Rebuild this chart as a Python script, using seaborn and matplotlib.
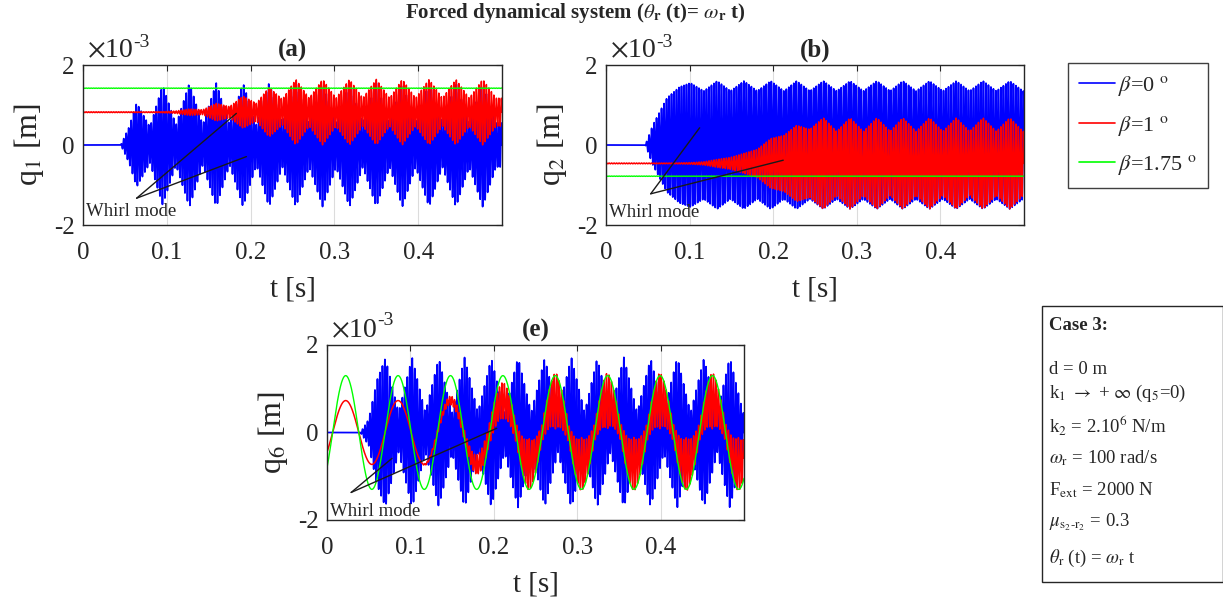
import numpy as np
import matplotlib
matplotlib.use('Agg')
import matplotlib.pyplot as plt
import seaborn as sns
from matplotlib.lines import Line2D
from matplotlib.patches import Rectangle

# ---------------- data (displacements in 1e-3 m) ----------------
T_END = 0.5
F_CARRIER = 335.0      # Hz, fast whirl oscillation
BEAT = 0.0318          # s, beat period of the whirl oscillation
OMEGA_R = 100.0        # rad/s

x_ticks = [0, 0.1, 0.2, 0.3, 0.4]
x_tick_labels = ['0', '0.1', '0.2', '0.3', '0.4']
y_ticks = [-2e-3, 0, 2e-3]
y_tick_labels = ['-2', '0', '2']
beta_labels = [r'$\beta$=0 $^\mathrm{o}$', r'$\beta$=1 $^\mathrm{o}$', r'$\beta$=1.75 $^\mathrm{o}$']
colors = ['#0000ff', '#ff0000', '#00ff00']

# panel (a) : q1
a_peak_t = [0.064, 0.095, 0.127, 0.159, 0.191, 0.222, 0.254, 0.286, 0.318, 0.350, 0.381, 0.413, 0.445, 0.477]
a_blue_rise_t = [0, 0.045, 0.055]
a_blue_rise = [0, 0, 0.45]
a_blue_peak = [1.05, 1.5, 1.55, 1.55, 1.55, 1.55, 1.55, 1.55, 1.55, 1.55, 1.55, 1.55, 1.55, 1.55]
a_blue_node = [0.45, 0.5, 0.5, 0.5, 0.5, 0.55, 0.55, 0.55, 0.55, 0.55, 0.55, 0.55, 0.55, 0.55]
a_red_mid = 0.82
a_red_rise_t = [0, 0.05]
a_red_rise = [0.01, 0.01]
a_red_peak = [0.01, 0.015, 0.08, 0.22, 0.4, 0.62, 0.82, 0.82, 0.82, 0.82, 0.82, 0.82, 0.82, 0.82]
a_red_node = [0.01, 0.03, 0.06, 0.14, 0.22, 0.32, 0.35, 0.35, 0.35, 0.35, 0.35, 0.35, 0.35, 0.35]
a_green_mid = 1.42

# panel (b) : q2
b_peak_t = [0.101, 0.133, 0.165, 0.197, 0.228, 0.260, 0.292, 0.324, 0.355, 0.387, 0.419, 0.451, 0.483]
b_blue_rise_t = [0, 0.047, 0.056, 0.073, 0.088]
b_blue_rise = [0, 0, 0.5, 1.18, 1.45]
b_blue_peak = [1.55, 1.6, 1.6, 1.6, 1.6, 1.6, 1.6, 1.6, 1.6, 1.6, 1.6, 1.6, 1.6]
b_blue_node = [1.35, 1.35, 1.35, 1.35, 1.35, 1.35, 1.35, 1.35, 1.35, 1.35, 1.35, 1.35, 1.35]
b_red_mid = -0.46
b_red_rise_t = [0, 0.08]
b_red_rise = [0.01, 0.01]
b_red_peak = [0.02, 0.1, 0.25, 0.62, 0.95, 1.14, 1.14, 1.14, 1.14, 1.14, 1.14, 1.14, 1.14]
b_red_node = [0.04, 0.15, 0.35, 0.7, 0.85, 0.8, 0.8, 0.8, 0.8, 0.8, 0.8, 0.8, 0.8]
b_green_mid = -0.78

# panel (e) : q6
e_peak_t = [0.070, 0.102, 0.134, 0.165, 0.197, 0.229, 0.261, 0.293, 0.324, 0.356, 0.388, 0.420, 0.452, 0.483]
e_blue_rise_t = [0, 0.040, 0.050, 0.060]
e_blue_rise = [0, 0, 0.3, 1.2]
e_blue_peak = [1.7, 1.72, 1.7, 1.72, 1.7, 1.72, 1.7, 1.72, 1.7, 1.72, 1.7, 1.72, 1.7, 1.72]
e_blue_node = [0.45, 0.45, 0.45, 0.45, 0.45, 0.45, 0.45, 0.45, 0.45, 0.45, 0.45, 0.45, 0.45, 0.45]
e_red_slow_amp = 0.73
e_red_peak_t = [0.148, 0.179, 0.211, 0.242, 0.274, 0.305, 0.336, 0.368, 0.399, 0.431, 0.462, 0.493]
e_red_rise_t = [0, 0.11]
e_red_rise = [0, 0]
e_red_peak = [0.1, 0.22, 0.42, 0.6, 0.65, 0.62, 0.65, 0.62, 0.65, 0.62, 0.65, 0.62]
e_red_node = [0.12, 0.25, 0.22, 0.2, 0.2, 0.2, 0.2, 0.2, 0.2, 0.2, 0.2, 0.2]
e_green_amp = 1.3
e_phase = 0.67   # rad, phase lag of the forced response

RIPPLE = 0.005

# ---------------- build the curves ----------------
T = np.linspace(0, T_END, 30001)
carrier = np.sin(2 * np.pi * F_CARRIER * T)


def envelope(rise_t, rise_amp, peak_t, peak_amp, node_amp):
    tk, ak = list(rise_t), list(rise_amp)
    for tp, ap, an in zip(peak_t, peak_amp, node_amp):
        tk += [tp, tp + BEAT / 2]
        ak += [ap, an]
    return np.interp(T, tk, ak)


slow = np.sin(OMEGA_R * T - e_phase)

panels = {
    'a': [
        envelope(a_blue_rise_t, a_blue_rise, a_peak_t, a_blue_peak, a_blue_node) * carrier,
        a_red_mid + envelope(a_red_rise_t, a_red_rise, a_peak_t, a_red_peak, a_red_node) * carrier,
        a_green_mid + RIPPLE * carrier,
    ],
    'b': [
        envelope(b_blue_rise_t, b_blue_rise, b_peak_t, b_blue_peak, b_blue_node) * carrier,
        b_red_mid + envelope(b_red_rise_t, b_red_rise, b_peak_t, b_red_peak, b_red_node) * carrier,
        b_green_mid + RIPPLE * carrier,
    ],
    'e': [
        envelope(e_blue_rise_t, e_blue_rise, e_peak_t, e_blue_peak, e_blue_node) * carrier,
        e_red_slow_amp * slow + envelope(e_red_rise_t, e_red_rise, e_red_peak_t, e_red_peak, e_red_node) * carrier,
        e_green_amp * slow,
    ],
}
line_widths = [1.25, 1.1, 1.0]

# ---------------- style ----------------
sns.set_theme(style='white')
plt.rcParams['font.family'] = ['Liberation Serif', 'DejaVu Serif']
plt.rcParams['mathtext.fontset'] = 'stix'
plt.rcParams['axes.unicode_minus'] = False
plt.rcParams['xtick.direction'] = 'in'
plt.rcParams['ytick.direction'] = 'in'

fig = plt.figure(figsize=(12.23, 6.03), dpi=100)
W, H = 1223, 603


def px_axes(l, t, r, b):
    return fig.add_axes([l / W, 1 - b / H, (r - l) / W, (b - t) / H])


ax_a = px_axes(83, 65, 502, 225)
ax_b = px_axes(606, 65, 1024, 225)
ax_e = px_axes(327, 345, 744, 520)

info = [
    (ax_a, 'a', r'q$_1$ [m]',
     ((0.064, -1.33), [(0.183, 0.79), (0.195, -0.29)], (0.004, -1.65))),
    (ax_b, 'b', r'q$_2$ [m]',
     ((0.0535, -1.22), [(0.112, 0.43), (0.212, -0.38)], (0.004, -1.68))),
    (ax_e, 'e', r'q$_6$ [m]',
     ((0.029, -1.37), [(0.078, -0.59), (0.2035, 0.096)], (0.004, -1.8))),
]

for ax, key, ylab, (apex, ends, txt) in info:
    for y, c, lw in zip(panels[key], colors, line_widths):
        sns.lineplot(x=T, y=y * 1e-3, ax=ax, color=c, linewidth=lw,
                     estimator=None, sort=False, errorbar=None, legend=False)
    for ex, ey in ends:
        ax.plot([apex[0], ex], [apex[1] * 1e-3, ey * 1e-3], color='k', lw=1.0, zorder=5)
    ax.text(txt[0], txt[1] * 1e-3, 'Whirl mode', fontsize=13.5, va='center', ha='left', zorder=6)

    ax.set_xlim(0, T_END)
    ax.set_ylim(-2e-3, 2e-3)
    ax.set_xticks(x_ticks, labels=x_tick_labels)
    ax.set_yticks(y_ticks, labels=y_tick_labels)
    ax.tick_params(labelsize=18, top=True, right=True, length=4, width=0.8, color='#262626')
    ax.tick_params(axis='x', pad=12)
    ax.tick_params(axis='y', pad=6)
    ax.text(0.01, 1.01, r'$\times$10', transform=ax.transAxes, fontsize=20,
            ha='left', va='bottom')
    ax.text(0.12, 1.09, '-3', transform=ax.transAxes, fontsize=14,
            ha='left', va='bottom')
    ax.grid(True, color='#dcdcdc', lw=0.8)
    ax.set_axisbelow(True)
    for s in ax.spines.values():
        s.set_color('#262626')
        s.set_linewidth(1.0)
    ax.set_xlabel('t [s]', fontsize=21, labelpad=9)
    ax.set_ylabel(ylab, fontsize=23, labelpad=6)
    ax.set_title(f'({key})', fontsize=18, fontweight='bold', pad=6)

fig.text(575 / W, 1 - 13 / H,
         r'Forced dynamical system ($\theta_{\mathbf{r}}$ (t)= $\omega_{\mathbf{r}}$ t)',
         ha='center', va='center', fontsize=15, fontweight='bold')

handles = [Line2D([], [], color=c, lw=1.2) for c in colors]
fig.legend(handles, beta_labels, loc='upper left', bbox_to_anchor=(1068 / W, 1 - 63 / H),
           fontsize=16, frameon=True, fancybox=False, edgecolor='#404040', framealpha=1,
           handlelength=1.6, handletextpad=0.15, labelspacing=0.7, borderpad=0.5,
           borderaxespad=0)

# parameter box
fig.patches.append(Rectangle((1042 / W, 1 - 582 / H), (W - 1042) / W, 276 / H,
                             transform=fig.transFigure, fill=False, edgecolor='#262626', lw=1.0))
case_lines = [
    ('Case 3:', 325, 'bold'),
    ('d = 0 m', 369, 'normal'),
    (r'k$_1$ $\rightarrow$ + $\infty$ (q$_5$=0)', 393, 'normal'),
    (r'k$_2$ = 2.10$^6$ N/m', 426, 'normal'),
    (r'$\omega_\mathrm{r}$ = 100 rad/s', 458, 'normal'),
    (r'F$_\mathrm{ext}$ = 2000 N', 490, 'normal'),
    (r'$\mu_{\mathrm{s}_2\text{-}\mathrm{r}_2}$ = 0.3', 522, 'normal'),
    (r'$\theta_\mathrm{r}$ (t) = $\omega_\mathrm{r}$ t', 558, 'normal'),
]
for s, yp, w in case_lines:
    fig.text(1049 / W, 1 - yp / H, s, ha='left', va='center', fontsize=13.5, fontweight=w)

fig.savefig('out.png', dpi=100)
